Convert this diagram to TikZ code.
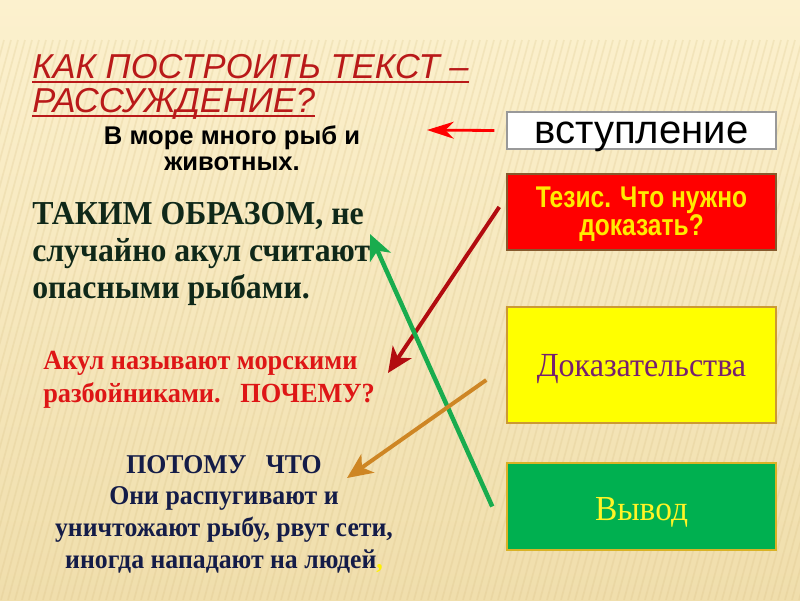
\documentclass[tikz,border=0pt]{standalone}
\usepackage{fontspec}
\setmainfont{Liberation Serif}
\newfontfamily\titlefont{Liberation Sans}
\newfontfamily\titlenarrow[FakeStretch=1.0]{Liberation Sans}
\newfontfamily\narrowfont[FakeStretch=0.82]{Liberation Sans}
\newfontfamily\condserif[FakeStretch=0.95]{Liberation Serif}
\usetikzlibrary{arrows.meta}

\definecolor{bgtop}{RGB}{252,241,206}
\definecolor{bgbottom}{RGB}{240,222,172}
\definecolor{stripe}{RGB}{214,190,130}
\definecolor{titlered}{RGB}{185,25,25}
\definecolor{thesisred}{RGB}{255,0,0}
\definecolor{proofyellow}{RGB}{255,255,0}
\definecolor{endgreen}{RGB}{0,176,80}
\definecolor{textgreen}{RGB}{15,40,25}
\definecolor{textred}{RGB}{222,22,22}
\definecolor{textnavy}{RGB}{20,28,72}
\definecolor{textpurple}{RGB}{118,32,112}
\definecolor{arrowdark}{RGB}{178,12,16}
\definecolor{arrowgreen}{RGB}{25,172,78}
\definecolor{arrowbrown}{RGB}{206,134,36}

\begin{document}
\begin{tikzpicture}[x=0.025cm, y=-0.025cm,
    plain/.style={inner sep=0pt},
    titletext/.style={plain, font=\titlenarrow\itshape\fontsize{24.6}{24.6}\selectfont, text=titlered},
    titleline/.style={titlered, line width=1.8pt},
    box/.style={draw, line width=1pt, minimum width=6.725cm, inner sep=0pt, align=center, text depth=0pt},
    bodyserif/.style={plain, font=\condserif\bfseries\fontsize{23.8}{26.3}\selectfont, align=left},
    pointer/.style={line width=2.8pt, -{Stealth[length=18pt, width=16pt, inset=5pt]}}]

    % background
    \useasboundingbox (0,0) rectangle (800,600);
    \fill[top color=bgtop, bottom color=bgbottom] (0,0) rectangle (800,600);
    \begin{scope}
        \clip (0,0) rectangle (800,600);
        \foreach \s in {-160,-153,...,800}
            \draw[stripe, opacity=0.22, line width=1.2pt] (\s,600) -- (\s+150,40);
    \end{scope}

    % title
    \node[titletext, anchor=base west] (titleA) at (32,78) {КАК ПОСТРОИТЬ ТЕКСТ –};
    \node[titletext, anchor=base west] (titleB) at (32,112) {РАССУЖДЕНИЕ?};
    \draw[titleline] ([yshift=-3pt]titleA.base west) -- ([yshift=-3pt]titleA.base east);
    \draw[titleline] ([yshift=-3pt]titleB.base west) -- ([yshift=-3pt]titleB.base east);

    % boxes on the right
    \node[box, draw=gray!80, fill=white, minimum height=0.925cm, text height=17.8pt,
          font=\titlefont\fontsize{28.5}{28.5}\selectfont] (intro box) at (641.5,130.5) {вступление};
    \node[box, draw=brown!70!black, fill=thesisred, minimum height=1.9cm, text height=34pt,
          text=proofyellow!92!red, font=\narrowfont\bfseries\fontsize{21.3}{20.3}\selectfont]
        (thesis) at (641.5,212) {Тезис. Что нужно\\доказать?};
    \node[box, draw=brown!80!yellow, fill=proofyellow, minimum height=2.9cm, text height=17pt,
          text=textpurple, font=\condserif\fontsize{24}{24}\selectfont] (proof) at (641.5,365) {Доказательства};
    \node[box, draw=brown!60!yellow, fill=endgreen, minimum height=2.175cm, text height=20.6pt,
          text=yellow!85!white, font=\condserif\fontsize{25}{25}\selectfont] (summary) at (641.5,506.5) {Вывод};

    % texts on the left (base = last line)
    \node[plain, anchor=base, align=center, font=\titlefont\bfseries\fontsize{18.2}{17.8}\selectfont]
        (intro) at (232,170) {В море много рыб и\\животных.};
    \node[bodyserif, anchor=base west, text=textgreen] (conclusion) at (32,298)
        {ТАКИМ ОБРАЗОМ, не\\случайно акул считают\\опасными рыбами.};
    \node[plain, anchor=base west, align=left, text=textred,
          font=\condserif\bfseries\fontsize{19.7}{22.8}\selectfont] (why) at (43,402)
        {Акул называют морскими\\разбойниками.\ \ \ ПОЧЕМУ?};
    \node[plain, anchor=base, align=center, text=textnavy,
          font=\condserif\bfseries\fontsize{19.3}{22.5}\selectfont] (because) at (224,568)
        {ПОТОМУ\ \ \ ЧТО\\Они распугивают и\\уничтожают рыбу, рвут сети,\\иногда нападают на людей{\color{yellow},}};

    % arrow tips
    \coordinate (introTip) at (427,130);
    \coordinate (whyTip) at (388,373);
    \coordinate (conclusionTip) at (370,234);
    \coordinate (becauseTip) at (347,478);

    % arrows
    \draw[red, line width=2pt, -{Stealth[length=19pt, width=12pt, inset=6pt]}]
        ([xshift=-8.5pt]intro box.west) -- (introTip);
    \draw[pointer, arrowdark] ([shift={(-7,-5)}]thesis.west) -- (whyTip);
    \draw[pointer, arrowgreen, line width=3.2pt] ([shift={(-14,0)}]summary.west) -- (conclusionTip);
    \draw[pointer, arrowbrown] ([shift={(-20,15)}]proof.west) -- (becauseTip);
\end{tikzpicture}
\end{document}
